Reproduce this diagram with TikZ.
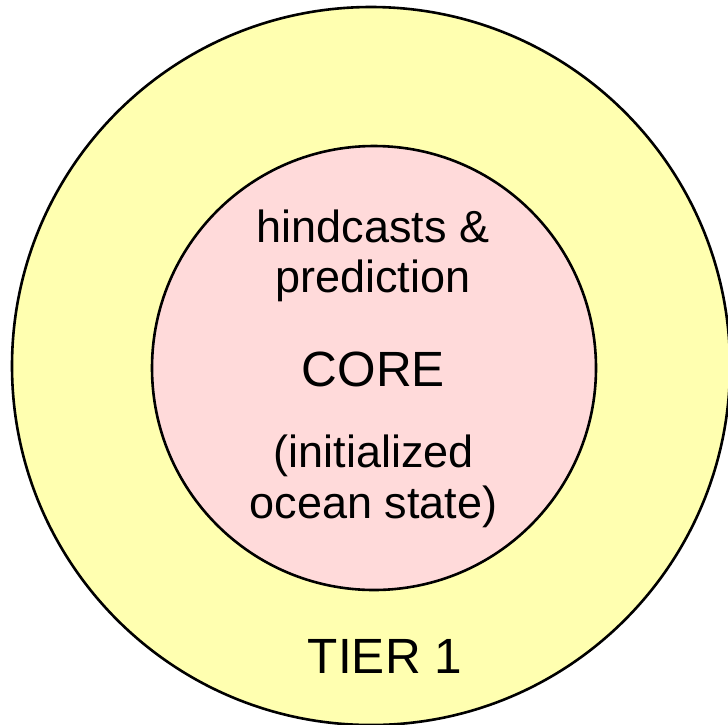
\documentclass[tikz,border=0pt]{standalone}
\usepackage{fontspec}
\setmainfont{Liberation Sans}
\definecolor{tieryellow}{RGB}{255,255,176}
\definecolor{corepink}{RGB}{255,218,218}
\begin{document}
\begin{tikzpicture}[x=1pt,y=-1pt,
  ring/.style={circle, draw=black, line width=2.6pt, inner sep=0pt},
  lbl/.style={anchor=base, inner sep=0pt, font=\fontsize{45}{51}\selectfont, text=black},
  biglbl/.style={lbl, font=\fontsize{49.5}{55}\selectfont}]
\useasboundingbox[fill=white] (0,0) rectangle (728,724);
\node[ring, fill=tieryellow, minimum size=718pt] (tier) at (371,366) {};
\node[ring, fill=corepink, minimum size=444pt] (core) at (374,368) {};
\node[lbl] (l1) at (373,242) {hindcasts \&};
\node[lbl] (l2) at (373,292.5) {prediction};
\node[biglbl] (l3) at (373.5,386.5) {CORE};
\node[lbl] (l4) at (374,467) {(initialized};
\node[lbl] (l5) at (373.5,518) {ocean state)};
\node[biglbl] (l6) at (385,673) {TIER 1};
\end{tikzpicture}
\end{document}
